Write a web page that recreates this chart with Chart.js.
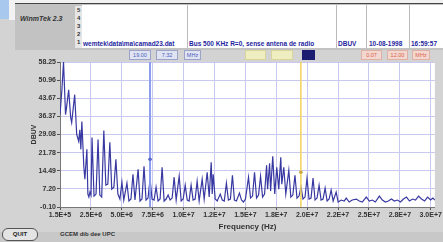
<!DOCTYPE html>
<html>
<head>
<meta charset="utf-8">
<script src="https://cdn.jsdelivr.net/npm/chart.js@4/dist/chart.umd.min.js"></script>
<style>
body{margin:0;width:443px;height:242px;overflow:hidden;background:#d3d3d3;position:relative;font-family:"Liberation Sans",Arial,sans-serif}
.a{position:absolute;white-space:nowrap}
.t{font-size:6.5px;font-weight:bold;color:#1f1fa0;top:40px}
.d{font-size:6px;font-weight:bold;color:#333;left:77px}
.b{top:50px;height:8px;font-size:5.5px;line-height:8px;text-align:center;border:1px solid #9aa4c8}
</style>
</head>
<body>
<!-- window chrome -->
<div class="a" style="left:0;top:0;width:443px;height:3px;background:#f2f2f2"></div>
<div class="a" style="left:0;top:0;width:9px;height:19px;background:#a8c8ee"></div>
<div class="a" style="left:9px;top:0;width:6px;height:20px;background:#f2f2f2"></div>
<div class="a" style="left:15px;top:3px;width:428px;height:46px;background:#c2c2c2;border-top:1px solid #444"></div>
<div class="a" style="left:20px;top:15px;font-size:7px;font-weight:bold;font-style:italic;color:#333">WinmTek 2.3</div>
<div class="a" style="left:75px;top:6px;width:7px;height:42px;background:#e6e6e6"></div>
<div class="a d" style="top:7px">5</div>
<div class="a d" style="top:15px">4</div>
<div class="a d" style="top:23px">3</div>
<div class="a d" style="top:31px">2</div>
<div class="a d" style="top:39px">1</div>
<div class="a" style="left:82px;top:5px;width:361px;height:43px;background:#fff"></div>
<div class="a" style="left:187px;top:5px;width:1px;height:43px;background:#bbb"></div>
<div class="a" style="left:336px;top:5px;width:1px;height:43px;background:#bbb"></div>
<div class="a" style="left:366px;top:5px;width:1px;height:43px;background:#bbb"></div>
<div class="a" style="left:409px;top:5px;width:1px;height:43px;background:#bbb"></div>
<div class="a t" style="left:83px">wemtek\data\ma\camad23.dat</div>
<div class="a t" style="left:189px">Bus 500 KHz R=0, sense antena de radio</div>
<div class="a t" style="left:338px">DBUV</div>
<div class="a t" style="left:369px">10-08-1998</div>
<div class="a t" style="left:411px">16:59:57</div>
<!-- cursor readout row -->
<div class="a b" style="left:129px;width:20px;background:#dfe3f2;color:#4a5fc0">19.00</div>
<div class="a b" style="left:156px;width:20px;background:#dfe3f2;color:#4a5fc0">7.32</div>
<div class="a b" style="left:184px;width:15px;background:#dfe3f2;color:#4a5fc0">MHz</div>
<div class="a b" style="left:245px;width:19px;background:#efeec0;color:#d8d070;border-color:#d8d49a"></div>
<div class="a b" style="left:271px;width:20px;background:#efeec0;color:#d8d070;border-color:#d8d49a"></div>
<div class="a b" style="left:302px;width:11px;background:#1c1c70;border-color:#1c1c70"></div>
<div class="a b" style="left:361px;width:19px;background:#f2d8d0;color:#e06048;border-color:#e0b0a4">0.07</div>
<div class="a b" style="left:387px;width:19px;background:#f2d8d0;color:#e06048;border-color:#e0b0a4">12.00</div>
<div class="a b" style="left:412px;width:16px;background:#f2d8d0;color:#e06048;border-color:#e0b0a4">MHz</div>
<!-- bottom bar -->
<div class="a" style="left:0;top:232px;width:443px;height:10px;background:#c8c8c8"></div>
<div class="a" style="left:2px;top:228px;width:34px;height:11px;border:1px solid #555;border-radius:6px;background:#e4e4e4;font-size:6px;font-weight:bold;line-height:11px;text-align:center;color:#222">QUIT</div>
<div class="a" style="left:60px;top:231px;font-size:6px;font-weight:bold;color:#333">GCEM dib dee UPC</div>
<canvas id="chart" width="443" height="242" style="position:absolute;left:0;top:0"></canvas>
<script>
// spectrum trace (frequency in MHz, level in dBuV)
const freqMHz = [
  0.15, 0.30, 0.43, 0.59, 0.67, 0.84, 1.00, 1.08, 1.32, 1.48, 1.64, 1.73, 1.81, 1.89, 2.05, 2.13,
  2.29, 2.37, 2.45, 2.53, 2.62, 2.70, 2.86, 3.02, 3.18, 3.32, 3.47, 3.64, 3.80, 3.96, 4.12, 4.27,
  4.44, 4.60, 4.76, 4.92, 5.08, 5.23, 5.48, 5.64, 5.80, 5.96, 6.12, 6.37, 6.52, 6.68, 6.84, 7.00,
  7.16, 7.32, 7.48, 7.64, 7.80, 7.96, 8.12, 8.28, 8.44, 8.60, 8.76, 8.92, 9.08, 9.24, 9.40, 9.64,
  9.80, 9.96, 10.12, 10.28, 10.43, 10.59, 10.75, 10.91, 11.07, 11.23, 11.47, 11.63, 11.87, 12.03, 12.19, 12.27,
  12.35, 12.51, 12.67, 12.91, 13.07, 13.23, 13.40, 13.56, 13.72, 13.88, 14.04, 14.20, 14.44, 14.60, 14.76, 14.92,
  15.16, 15.32, 15.48, 15.64, 15.80, 15.96, 16.12, 16.28, 16.44, 16.60, 16.68, 16.84, 16.92, 17.09, 17.25, 17.41,
  17.57, 17.73, 17.81, 17.97, 18.13, 18.37, 18.53, 18.69, 18.86, 19.02, 19.18, 19.34, 19.50, 19.66, 19.82, 19.98,
  20.14, 20.30, 20.46, 20.62, 20.78, 20.94, 21.10, 21.26, 21.42, 21.58, 21.74, 21.90, 22.14, 22.30, 22.54, 22.78,
  22.94, 23.18, 23.42, 23.74, 23.98, 24.22, 24.54, 24.78, 25.02, 25.26, 25.58, 25.82, 26.06, 26.30, 26.54, 26.78,
  27.02, 27.26, 27.50, 27.74, 27.98, 28.22, 28.46, 28.70, 28.94, 29.18, 29.42, 29.66, 29.84, 30.00
];
const levelDBuV = [
  37.1, 47.0, 58.3, 37.1, 39.9, 47.1, 35.9, 33.9, 45.1, 29.1, 26.3, 31.0, 23.1, 34.3, 15.9, 11.1,
  23.1, 5.1, 3.9, 5.9, 4.7, 27.9, 4.3, 5.1, 27.1, 4.7, 3.9, 30.7, 8.7, 9.1, 25.9, 7.1,
  7.9, 19.1, 5.1, 3.1, 9.9, 2.7, 9.5, 2.3, 3.1, 13.1, 2.7, 15.1, 2.3, 3.1, 16.3, 2.7,
  3.5, 11.1, 3.1, 2.7, 7.9, 2.3, 3.1, 15.9, 2.3, 3.1, 4.7, 2.7, 3.5, 11.9, 2.7, 12.3,
  2.3, 3.1, 8.7, 2.7, 2.3, 8.7, 2.7, 3.1, 10.3, 2.3, 11.1, 3.1, 13.9, 3.9, 17.9, 5.1,
  13.1, 3.1, 2.3, 5.1, 2.7, 2.3, 9.5, 2.7, 3.1, 12.7, 2.7, 2.3, 5.5, 2.7, 1.9, 3.1,
  11.9, 3.5, 4.3, 13.9, 3.5, 4.7, 12.3, 3.9, 5.1, 16.7, 7.1, 17.5, 6.3, 20.3, 5.1, 15.9,
  7.1, 19.9, 9.1, 15.9, 5.1, 14.7, 3.9, 4.7, 12.7, 3.5, 4.3, 7.9, 3.1, 3.9, 11.5, 3.1,
  3.5, 11.5, 2.7, 3.5, 8.7, 2.7, 3.1, 7.5, 2.3, 3.1, 6.7, 2.3, 5.9, 1.9, 2.7, 2.3,
  3.5, 1.9, 2.7, 3.1, 2.3, 1.9, 3.9, 2.3, 2.7, 1.9, 4.3, 2.7, 1.9, 2.3, 3.1, 2.3,
  2.7, 1.9, 3.1, 3.9, 2.3, 3.1, 2.7, 4.3, 3.1, 2.3, 3.9, 2.7, 3.5, 2.7
];
const xTickPos = [0.15, 2.61, 5.07, 7.53, 9.99, 12.45, 14.91, 17.37, 19.83, 22.29, 24.75, 27.21, 29.67];
const xTickLabels = ['1.5E+5', '2.5E+6', '5.0E+6', '7.5E+6', '1.0E+7', '1.2E+7', '1.5E+7', '1.8E+7', '2.0E+7', '2.2E+7', '2.5E+7', '2.8E+7', '3.0E+7'];
const yTickPos = [-0.10, 7.20, 14.49, 21.78, 29.08, 36.37, 43.67, 50.96, 58.25];
const yTickLabels = ['-0.10', '7.20', '14.49', '21.78', '29.08', '36.37', '43.67', '50.96', '58.25'];
const cursorFreq = [7.32, 19.33];
const cursorLevel = [19.1, 13.9];
const cursorColors = ['#8c9cf0', '#f2d25a'];

const plotBg = {
  id: 'plotBg',
  beforeDraw(chart) {
    const a = chart.chartArea, c = chart.ctx;
    c.save();
    c.fillStyle = '#ffffff';
    c.fillRect(a.left, a.top, a.right - a.left, a.bottom - a.top);
    c.restore();
  }
};

const tickFont = { family: 'Liberation Sans', size: 7, weight: 'bold' };

const datasets = [];
cursorFreq.forEach((f, i) => {
  datasets.push({
    type: 'line', order: 0,
    data: [{ x: f, y: yTickPos[0] }, { x: f, y: yTickPos[yTickPos.length - 1] }],
    borderColor: cursorColors[i], borderWidth: i === 0 ? 2 : 1.5, pointRadius: 0
  });
});
datasets.unshift({
  type: 'scatter', order: -1,
  data: cursorFreq.map((f, i) => ({ x: f, y: cursorLevel[i] })),
  pointRadius: 1.8, pointBackgroundColor: ['#5a68c8', '#c8a840'], pointBorderWidth: 0
});
datasets.push({
  type: 'line', order: 1,
  data: freqMHz.map((f, i) => ({ x: f, y: levelDBuV[i] })),
  borderColor: '#3838a2', borderWidth: 1.2, pointRadius: 0, tension: 0
});

new Chart(document.getElementById('chart'), {
  type: 'line',
  data: { datasets: datasets },
  plugins: [plotBg],
  options: {
    responsive: false,
    animation: false,
    devicePixelRatio: 1,
    layout: { padding: { left: 16, right: 8, top: 62, bottom: 10 } },
    plugins: { legend: { display: false }, tooltip: { enabled: false } },
    scales: {
      x: {
        type: 'linear', min: 0.15, max: 30,
        afterBuildTicks: s => { s.ticks = xTickPos.map(v => ({ value: v })); },
        afterFit: s => { s.height = 25; },
        ticks: { autoSkip: false, maxRotation: 0, padding: 1, color: '#333', font: tickFont,
                 callback: (v, i) => xTickLabels[i] },
        grid: { color: '#c8c8f0', tickColor: '#555', tickLength: 3 },
        border: { color: '#777' },
        title: { display: true, text: 'Frequency (Hz)', color: '#333', padding: 0,
                 font: { family: 'Liberation Sans', size: 8, weight: 'bold' } }
      },
      y: {
        type: 'linear', min: -0.10, max: 58.25,
        afterBuildTicks: s => { s.ticks = yTickPos.map(v => ({ value: v })); },
        afterFit: s => { s.width = 44; },
        ticks: { autoSkip: false, padding: 1, color: '#333', font: tickFont,
                 callback: (v, i) => yTickLabels[i] },
        grid: { color: '#c8c8f0', tickColor: '#555', tickLength: 3 },
        border: { color: '#777' },
        title: { display: true, text: 'DBUV', color: '#333', padding: { top: 14, bottom: 0 },
                 font: { family: 'Liberation Sans', size: 7, weight: 'bold' } }
      }
    }
  }
});
</script>
</body>
</html>
